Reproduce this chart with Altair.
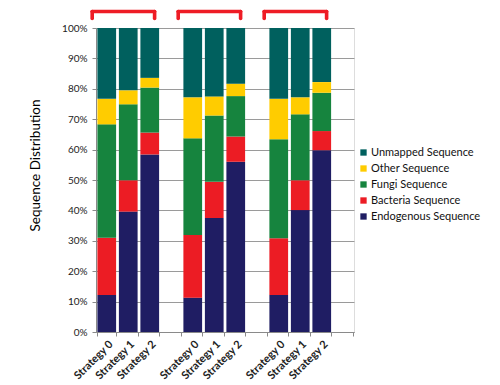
import altair as alt
import pandas as pd

series = ["Unmapped Sequence", "Other Sequence", "Fungi Sequence", "Bacteria Sequence", "Endogenous Sequence"]
colors = ["#00605e", "#ffcc00", "#16843e", "#ec1c24", "#1f1d63"]
strategies = ["Strategy 0", "Strategy 1", "Strategy 2"]
groups = ["g1", "g2", "g3"]

endogenous = [12.2, 39.6, 58.4, 11.3, 37.5, 56.0, 12.2, 40.1, 59.8]
bacteria = [18.8, 10.3, 7.2, 20.6, 11.9, 8.3, 18.6, 9.8, 6.3]
fungi = [37.3, 25.0, 14.8, 31.8, 21.8, 13.3, 32.6, 21.7, 12.6]
other = [8.4, 4.6, 3.2, 13.5, 6.3, 4.1, 13.3, 5.6, 3.5]
unmapped = [23.3, 20.5, 16.4, 22.8, 22.5, 18.3, 23.3, 22.8, 17.8]

# category keys: 3 groups x (3 strategies + 1 gap slot)
keys = []
bar_keys = []
for g in groups:
    for i, s in enumerate(strategies):
        k = f"{g}|{s}"
        keys.append(k)
        bar_keys.append(k)
    keys.append(f"{g}|gap")

vals = {
    "Endogenous Sequence": endogenous,
    "Bacteria Sequence": bacteria,
    "Fungi Sequence": fungi,
    "Other Sequence": other,
    "Unmapped Sequence": unmapped,
}
stack_order = ["Endogenous Sequence", "Bacteria Sequence", "Fungi Sequence", "Other Sequence", "Unmapped Sequence"]

rows = []
for j, k in enumerate(bar_keys):
    for o, s in enumerate(stack_order):
        rows.append({"key": k, "series": s, "value": vals[s][j] / 100.0, "ord": o})
df = pd.DataFrame(rows)

brackets = pd.DataFrame({
    "start": [f"{g}|{strategies[0]}" for g in groups],
    "end": [f"{g}|{strategies[2]}" for g in groups],
})

FONT = "Lato"
xscale = alt.Scale(domain=keys, paddingInner=0.13)

bars = alt.Chart(df).mark_bar().encode(
    x=alt.X("key:N", scale=xscale, title=None, sort=keys,
            axis=alt.Axis(labelAngle=315, labelAlign="right", labelBaseline="top",
                          labelExpr="split(datum.value, '|')[1] == 'gap' ? '' : split(datum.value, '|')[1]",
                          labelFont=FONT, labelFontSize=11, labelFontWeight="bold", labelColor="#222222",
                          tickBand="extent", tickColor="#8a8a8a", tickSize=4,
                          domainColor="#8a8a8a", labelPadding=2, grid=False)),
    y=alt.Y("value:Q", stack="zero", scale=alt.Scale(domain=[0, 1], nice=False),
            title="Sequence Distribution",
            axis=alt.Axis(format=".0%", values=[i / 10 for i in range(11)],
                          labelFont=FONT, labelFontSize=10, labelColor="#222222",
                          titleFont=FONT, titleFontSize=13.5, titleFontWeight="normal", titleColor="#000000",
                          titlePadding=19, titleY=137, tickColor="#8a8a8a", tickSize=4, domainColor="#8a8a8a",
                          gridColor="#9a9a9a", gridWidth=1, labelPadding=5)),
    color=alt.Color("series:N", scale=alt.Scale(domain=series, range=colors),
                    legend=alt.Legend(title=None, orient="none", legendX=262, legendY=119,
                                      symbolType="square", symbolSize=40, symbolStrokeWidth=0,
                                      labelFont=FONT, labelFontSize=11, labelColor="#111111",
                                      rowPadding=4, labelOffset=2)),
    order=alt.Order("ord:Q", sort="ascending"),
)

RED = "#ee1c25"
SW = 3.6
hline = alt.Chart(brackets).mark_rule(color=RED, strokeWidth=SW, strokeCap="round", xOffset=-5.2, x2Offset=-4.5).encode(
    x=alt.X("start:N", scale=xscale, bandPosition=0),
    x2=alt.X2("end:N", bandPosition=1),
    y=alt.value(-16.5),
)
vleft = alt.Chart(brackets).mark_rule(color=RED, strokeWidth=SW, strokeCap="round", xOffset=-5.2).encode(
    x=alt.X("start:N", scale=xscale, bandPosition=0),
    y=alt.value(-16.5),
    y2=alt.value(-9.5),
)
vright = alt.Chart(brackets).mark_rule(color=RED, strokeWidth=SW, strokeCap="round", xOffset=-4.5).encode(
    x=alt.X("end:N", scale=xscale, bandPosition=1),
    y=alt.value(-16.5),
    y2=alt.value(-9.5),
)

chart = alt.layer(bars, hline, vleft, vright).properties(
    width=258, height=304,
    padding={"left": 20, "top": 1, "right": 5, "bottom": 5},
).configure_view(stroke=None).configure(background="white")

chart.save("out.html", embed_options={"renderer": "svg", "actions": False})
